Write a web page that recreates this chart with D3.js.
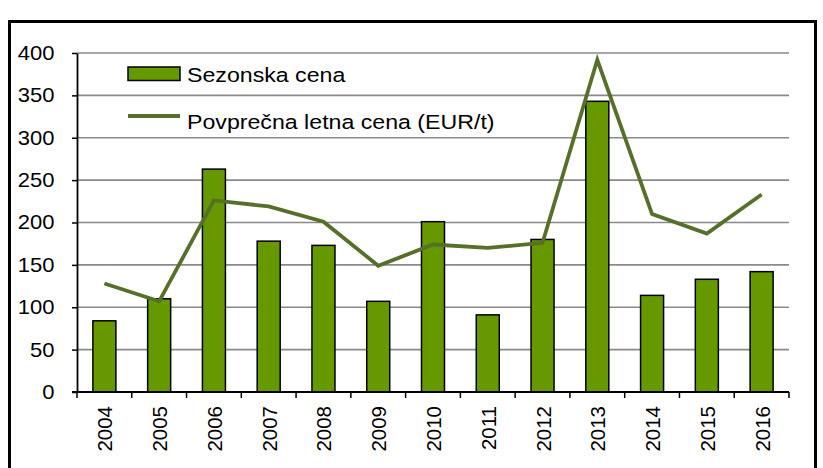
<!DOCTYPE html>
<html>
<head>
<meta charset="utf-8">
<script src="https://cdn.jsdelivr.net/npm/d3@7"></script>
<style>
  body { margin: 0; background: #fff; }
  text { font-family: "Liberation Sans", Arial, sans-serif; fill: #000; }
</style>
</head>
<body>
<div id="chart"></div>
<script>
var years = ["2004","2005","2006","2007","2008","2009","2010","2011","2012","2013","2014","2015","2016"]
var seasonal = [84, 110, 263, 178, 173, 107, 201, 91, 180, 343, 114, 133, 142]
var yearly = [128, 107, 226, 219, 201, 149, 174, 170, 176, 392, 210, 187, 233]
var yTicks = [0, 50, 100, 150, 200, 250, 300, 350, 400]
var legendLabels = ["Sezonska cena", "Povprečna letna cena (EUR/t)"]

var width = 823, height = 468
var margin = {top: 53, right: 34, bottom: 76, left: 77}
var barColor = "#669900", lineColor = "#56702a"

var svg = d3.select("#chart").append("svg")
    .attr("width", width)
    .attr("height", height)

// outer frame (bottom edge is cut off in the picture)
svg.append("rect")
    .attr("x", 9.5).attr("y", 21.5)
    .attr("width", 806).attr("height", 480)
    .attr("fill", "none").attr("stroke", "#000").attr("stroke-width", 3)

var x = d3.scaleBand().domain(years).range([margin.left, width - margin.right]).padding(0)
var xb = d3.scaleLinear().domain([0, years.length]).range([margin.left, width - margin.right])
var y = d3.scaleLinear().domain([0, 400]).range([height - margin.bottom, margin.top])

// gridlines
svg.append("g").selectAll("line")
    .data(yTicks.filter(function(d) { return d > 0 }))
    .join("line")
    .attr("x1", margin.left).attr("x2", width - margin.right)
    .attr("y1", function(d) { return y(d) }).attr("y2", function(d) { return y(d) })
    .attr("stroke", "#8a8a8a").attr("stroke-width", 1.6)

// bars
var bw = x.bandwidth() * 0.42
svg.append("g").selectAll("rect")
    .data(seasonal)
    .join("rect")
    .attr("x", function(d, i) { return x(years[i]) + (x.bandwidth() - bw) / 2 })
    .attr("y", function(d) { return y(d) })
    .attr("width", bw)
    .attr("height", function(d) { return y(0) - y(d) })
    .attr("fill", barColor).attr("stroke", "#000").attr("stroke-width", 1.5)

// line
var line = d3.line()
    .x(function(d, i) { return x(years[i]) + x.bandwidth() / 2 })
    .y(function(d) { return y(d) })
svg.append("path")
    .datum(yearly)
    .attr("d", line)
    .attr("fill", "none").attr("stroke", lineColor).attr("stroke-width", 3.8)
    .attr("stroke-linejoin", "miter")

// y axis
var yAxis = svg.append("g")
    .attr("transform", "translate(" + margin.left + ",0)")
    .call(d3.axisLeft(y).tickValues(yTicks).tickSize(5).tickPadding(17).tickSizeOuter(0))
yAxis.select(".domain").attr("stroke", "#000").attr("stroke-width", 1.8)
yAxis.selectAll(".tick line").attr("stroke", "#000").attr("stroke-width", 1.5)
yAxis.selectAll(".tick text")
    .attr("font-size", 20)
    .attr("transform", "translate(-17,0) scale(1.1,1) translate(17,0)")

// x axis
var xAxisG = svg.append("g")
    .attr("transform", "translate(0," + y(0) + ")")
xAxisG.append("line")
    .attr("x1", margin.left - 5).attr("x2", width - margin.right)
    .attr("stroke", "#000").attr("stroke-width", 1.8)
xAxisG.selectAll(".btick")
    .data(d3.range(years.length + 1))
    .join("line")
    .attr("class", "btick")
    .attr("x1", function(d) { return xb(d) }).attr("x2", function(d) { return xb(d) })
    .attr("y1", 0).attr("y2", 6)
    .attr("stroke", "#000").attr("stroke-width", 1.5)
xAxisG.selectAll(".xlab")
    .data(years)
    .join("text")
    .attr("class", "xlab")
    .attr("font-size", 20.5)
    .attr("text-anchor", "end")
    .attr("transform", function(d) { return "translate(" + (x(d) + x.bandwidth() / 2 + 8) + ",14) rotate(-90)" })
    .text(function(d) { return d })

// legend
var lg = svg.append("g")
lg.append("rect")
    .attr("x", 128).attr("y", 67).attr("width", 52).attr("height", 13.5)
    .attr("fill", barColor).attr("stroke", "#000").attr("stroke-width", 1.5)
lg.append("line")
    .attr("x1", 128).attr("x2", 180).attr("y1", 116).attr("y2", 116)
    .attr("stroke", lineColor).attr("stroke-width", 4)
lg.selectAll("text")
    .data(legendLabels)
    .join("text")
    .attr("font-size", 20.5)
    .attr("transform", function(d, i) { return "translate(187," + (81.5 + i * 47) + ") scale(1.13,1)" })
    .text(function(d) { return d })
</script>
</body>
</html>
